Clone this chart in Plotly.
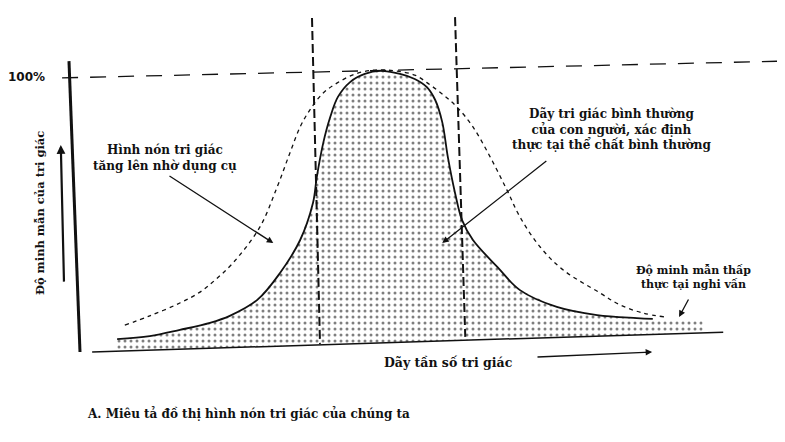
import numpy as np
import plotly.graph_objects as go

# ---- data (x: perceptual frequency units, y: perceptual acuity %) ----
normal_x = [5.8, 10.9, 15.6, 20.3, 23.4, 27.7, 31.25, 34.4, 36.4, 37.0, 38.0, 39.1, 40.3,
            42.2, 44.5, 46.9, 50.0, 52.3, 54.2, 55.5, 56.6, 57.5, 58.6, 59.7, 61.4,
            65.2, 68.75, 74.5, 80.8, 87.0, 89.5]
normal_y = [4.6, 5.7, 7.9, 10.4, 12.9, 18.6, 28.2, 40.0, 53.2, 62.5, 74.6, 83.9, 91.1,
            96.4, 99.3, 100.4, 99.3, 97.5, 94.6, 90.0, 82.1, 69.3, 56.8, 47.1, 40.0,
            30.4, 22.1, 16.1, 13.2, 12.1, 11.8]
tail_x = [97.3]
tail_y = [11.1]

enhanced_x = [7.0, 10.9, 15.6, 18.75, 21.1, 23.9, 28.1, 30.8, 32.8, 34.4, 35.9, 38.0, 40.2,
              43.0, 46.1, 49.2, 52.3, 54.7, 57.0, 58.9, 61.4, 64.1, 66.7, 68.75, 71.9,
              75.5, 81.25, 84.4, 88.0, 91.4]
enhanced_y = [9.6, 12.9, 17.5, 21.4, 25.7, 31.8, 44.6, 58.9, 71.1, 80.4, 86.4, 92.5, 96.1,
              99.3, 100.7, 100.4, 98.9, 95.4, 91.4, 87.5, 80.4, 69.6, 57.9, 48.2, 37.5,
              29.3, 21.1, 16.8, 13.9, 12.5]

baseline_x = [1.9, 100.5]
baseline_y = [0.0, 7.1]
yaxis_x = [-1.72, 0.0]
yaxis_y = [103.9, 0.0]
full_x = [-2.8, 110.2]
full_y = [97.9, 103.9]
left_limit_x = [36.25, 37.5]
left_limit_y = [119.3, 2.9]
right_limit_x = [58.6, 60.2]
right_limit_y = [119.6, 5.4]

FONT = "DejaVu Serif"
INK = "#111111"

fig = go.Figure()

# stippled area under the normal curve
fx = normal_x + tail_x
fy = normal_y + tail_y
b_end = float(np.interp(fx[-1], baseline_x, baseline_y))
b_start = float(np.interp(fx[0], baseline_x, baseline_y))
fig.add_trace(go.Scatter(
    x=fx + [fx[-1], fx[0]], y=fy + [b_end, b_start],
    mode="lines", line=dict(width=0), fill="toself", fillcolor="white",
    fillpattern=dict(shape=".", size=6, solidity=0.2, fgcolor="#000000", bgcolor="white"),
    hoverinfo="skip", showlegend=False))

# enhanced (instrument) cone - fine dashed
fig.add_trace(go.Scatter(x=enhanced_x, y=enhanced_y, mode="lines",
                         line=dict(color=INK, width=1.3, dash="4px,4px", shape="spline"),
                         showlegend=False))
# normal perception curve - solid
fig.add_trace(go.Scatter(x=normal_x, y=normal_y, mode="lines",
                         line=dict(color=INK, width=1.8, shape="spline"),
                         showlegend=False))
# 100% line
fig.add_trace(go.Scatter(x=full_x, y=full_y, mode="lines",
                         line=dict(color=INK, width=1.3, dash="16px,12px"), showlegend=False))
# vertical limits
for lx, ly in [(left_limit_x, left_limit_y), (right_limit_x, right_limit_y)]:
    fig.add_trace(go.Scatter(x=lx, y=ly, mode="lines",
                             line=dict(color=INK, width=2, dash="9px,4px"), showlegend=False))
# axes lines
fig.add_trace(go.Scatter(x=yaxis_x, y=yaxis_y, mode="lines",
                         line=dict(color=INK, width=3), showlegend=False))
fig.add_trace(go.Scatter(x=baseline_x, y=baseline_y, mode="lines",
                         line=dict(color=INK, width=1.5), showlegend=False))

def arrow(x, y, ax, ay, w=1.3, size=1.0):
    fig.add_annotation(x=x, y=y, ax=ax, ay=ay, xref="x", yref="y", axref="x", ayref="y",
                       text="", showarrow=True, arrowhead=2, arrowsize=size,
                       arrowwidth=w, arrowcolor=INK)

arrow(30.2, 38.9, 13.75, 63.2)
arrow(56.6, 38.9, 73.1, 68.6)
arrow(93.6, 12.5, 95.2, 19.3)
arrow(89.4, 0.0, 71.25, -1.8)
arrow(-3.0, 73.9, -2.5, 24.6, w=2.2, size=0.8)

def label(x, y, text, size=12, family=FONT, angle=0):
    fig.add_annotation(x=x, y=y, xref="x", yref="y", text=text, showarrow=False,
                       textangle=angle, align="center",
                       font=dict(family=family, size=size, color=INK))

label(-8.4, 98.2, "<b>100%</b>", size=12, family="DejaVu Sans")
label(-6.25, 49.6, "<b>Độ minh mẫn của tri giác</b>", size=11.5, angle=-90)
label(13.3, 69.3, "<b>Hình nón tri giác<br>tăng lên nhờ dụng cụ</b>", size=12)
label(83.1, 79.3, "<b>Dãy tri giác bình thường<br>của con người, xác định<br>thực tại thể chất bình thường</b>", size=12)
label(95.8, 26.8, "<b>Độ minh mẫn thấp<br>thực tại nghi vấn</b>", size=11)
label(57.5, -3.9, "<b>Dãy tần số tri giác</b>", size=12.5)
label(26.4, -22.1, "<b>A. Miêu tả đồ thị hình nón tri giác của chúng ta</b>", size=12)

# page body has an 8px margin: ranges cover reference pixels 8..785 / 8..442
fig.update_layout(
    width=777, height=434,
    margin=dict(l=0, r=0, t=0, b=0),
    paper_bgcolor="white", plot_bgcolor="white",
    xaxis=dict(range=[-11.25, 110.156], visible=False, fixedrange=True),
    yaxis=dict(range=[-32.14, 122.857], visible=False, fixedrange=True),
    showlegend=False,
)

fig.write_html("out.html")
